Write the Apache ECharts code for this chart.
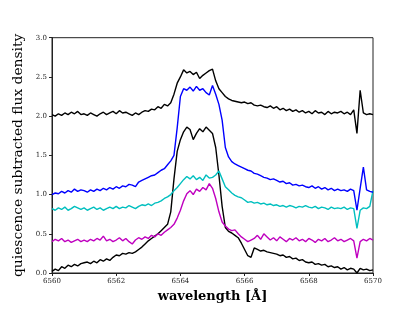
<!DOCTYPE html>
<html><head><meta charset="utf-8">
<script src="https://cdn.jsdelivr.net/npm/echarts@6/dist/echarts.min.js"></script>
<style>html,body{margin:0;padding:0;background:#fff}#c{width:415px;height:311px}</style>
</head><body><div id="c"></div>
<script>
// wavelength grid start/step (Å)
const lambdaStart = 6560.0;
const lambdaStep = 0.1;
const xTicks = [6560, 6562, 6564, 6566, 6568, 6570];
const yTicks = [0.0, 0.5, 1.0, 1.5, 2.0, 2.5, 3.0];

const topBlack = [
 2.02,2.00,2.03,2.01,2.04,2.02,2.05,2.03,2.06,2.02,
 2.03,2.01,2.04,2.02,2.00,2.03,2.05,2.02,2.04,2.06,
 2.03,2.07,2.04,2.05,2.03,2.01,2.04,2.02,2.05,2.07,
 2.06,2.09,2.08,2.12,2.10,2.15,2.13,2.17,2.28,2.42,
 2.50,2.59,2.55,2.57,2.53,2.56,2.48,2.52,2.55,2.58,
 2.60,2.45,2.35,2.30,2.25,2.22,2.20,2.19,2.18,2.17,
 2.18,2.16,2.17,2.14,2.13,2.14,2.12,2.11,2.13,2.10,
 2.12,2.08,2.10,2.07,2.09,2.06,2.08,2.05,2.07,2.04,
 2.06,2.03,2.07,2.04,2.05,2.02,2.06,2.03,2.05,2.04,
 2.06,2.03,2.05,2.02,2.08,1.78,2.33,2.04,2.02,2.03,2.02];

const blue = [
 1.00,1.02,1.01,1.04,1.02,1.05,1.03,1.07,1.04,1.06,
 1.05,1.03,1.06,1.04,1.07,1.05,1.08,1.06,1.09,1.07,
 1.10,1.08,1.11,1.10,1.13,1.12,1.10,1.16,1.18,1.20,
 1.22,1.24,1.25,1.28,1.31,1.33,1.38,1.43,1.50,1.85,
 2.25,2.35,2.33,2.37,2.32,2.38,2.33,2.35,2.30,2.27,
 2.39,2.28,2.15,1.95,1.60,1.48,1.42,1.39,1.37,1.35,
 1.33,1.31,1.30,1.27,1.26,1.24,1.22,1.21,1.19,1.20,
 1.18,1.16,1.17,1.14,1.15,1.12,1.13,1.11,1.12,1.10,
 1.09,1.11,1.08,1.10,1.07,1.09,1.06,1.08,1.05,1.07,
 1.05,1.06,1.04,1.07,1.05,0.80,1.08,1.35,1.06,1.04,1.03];

const cyan = [
 0.82,0.80,0.83,0.81,0.84,0.80,0.82,0.85,0.83,0.81,
 0.83,0.80,0.82,0.84,0.81,0.83,0.80,0.82,0.84,0.82,
 0.85,0.82,0.84,0.83,0.86,0.84,0.82,0.85,0.87,0.86,
 0.88,0.86,0.89,0.90,0.92,0.95,0.97,1.00,1.05,1.09,
 1.14,1.19,1.23,1.20,1.24,1.19,1.22,1.18,1.25,1.21,
 1.22,1.25,1.30,1.20,1.10,1.06,1.02,0.99,0.97,0.96,
 0.93,0.90,0.91,0.89,0.90,0.88,0.89,0.87,0.88,0.86,
 0.87,0.85,0.86,0.84,0.86,0.85,0.83,0.85,0.84,0.86,
 0.84,0.83,0.85,0.82,0.84,0.83,0.81,0.84,0.82,0.83,
 0.82,0.84,0.81,0.83,0.82,0.57,0.80,0.83,0.82,0.85,1.05];

const magenta = [
 0.40,0.43,0.41,0.44,0.40,0.42,0.39,0.41,0.43,0.40,
 0.42,0.40,0.43,0.41,0.44,0.42,0.47,0.41,0.43,0.40,
 0.42,0.45,0.41,0.44,0.40,0.37,0.42,0.45,0.43,0.46,
 0.44,0.48,0.46,0.50,0.48,0.52,0.55,0.58,0.62,0.70,
 0.80,0.92,1.01,1.05,1.00,1.07,1.04,1.09,1.06,1.14,
 1.08,0.95,0.78,0.65,0.60,0.56,0.54,0.55,0.50,0.46,
 0.43,0.40,0.42,0.44,0.48,0.43,0.50,0.46,0.42,0.45,
 0.41,0.46,0.43,0.40,0.44,0.42,0.45,0.41,0.43,0.40,
 0.44,0.42,0.39,0.43,0.41,0.44,0.40,0.42,0.45,0.41,
 0.43,0.40,0.42,0.44,0.41,0.19,0.40,0.43,0.41,0.44,0.42];

const bottomBlack = [
 0.02,0.05,0.03,0.08,0.06,0.10,0.08,0.11,0.09,0.12,
 0.13,0.14,0.12,0.15,0.13,0.17,0.15,0.18,0.16,0.20,
 0.23,0.22,0.25,0.24,0.26,0.25,0.27,0.30,0.33,0.37,
 0.41,0.44,0.47,0.50,0.54,0.58,0.62,0.78,1.20,1.55,
 1.70,1.80,1.86,1.83,1.70,1.78,1.84,1.80,1.86,1.82,
 1.78,1.60,1.25,0.85,0.58,0.53,0.51,0.48,0.45,0.38,
 0.30,0.22,0.20,0.32,0.30,0.28,0.29,0.27,0.26,0.25,
 0.24,0.22,0.23,0.20,0.21,0.18,0.19,0.16,0.17,0.14,
 0.13,0.14,0.11,0.12,0.10,0.11,0.08,0.09,0.07,0.08,
 0.05,0.07,0.04,0.06,0.05,0.00,0.06,0.04,0.05,0.03,0.04];

function pairs(arr){ return arr.map((v,i)=>[+(lambdaStart+i*lambdaStep).toFixed(2), v]); }

const FONT = '"DejaVu Serif", "Liberation Serif", serif';
const chart = echarts.init(document.getElementById('c'), null, {renderer:'canvas'});
function line(data,color){
  return {type:'line', data:pairs(data), showSymbol:false, symbol:'none',
          lineStyle:{color:color,width:1.4}, itemStyle:{color:color}, animation:false};
}
chart.setOption({
  animation:false,
  grid:{left:52, right:42, top:37.7, bottom:38, show:true, borderColor:'#222', borderWidth:1, backgroundColor:'transparent'},
  xAxis:{type:'value', min:xTicks[0], max:xTicks[xTicks.length-1], interval:2,
    name:'wavelength [Å]', nameLocation:'middle', nameGap:17,
    nameTextStyle:{fontFamily:FONT, fontSize:13, fontWeight:'bold', color:'#000'},
    axisLine:{show:true, lineStyle:{color:'#222', width:1}},
    axisTick:{show:true, length:3, inside:false, lineStyle:{color:'#222'}},
    axisLabel:{fontFamily:FONT, fontSize:7, color:'#222', margin:5, formatter:v=>String(v)},
    splitLine:{show:false}},
  yAxis:{type:'value', min:yTicks[0], max:yTicks[yTicks.length-1], interval:0.5,
    name:'quiescence subtracted flux density', nameLocation:'middle', nameGap:21,
    nameTextStyle:{fontFamily:FONT, fontSize:13.8, color:'#000'},
    axisLine:{show:true, lineStyle:{color:'#222', width:1}},
    axisTick:{show:true, length:3, inside:false, lineStyle:{color:'#222'}},
    axisLabel:{fontFamily:FONT, fontSize:7, color:'#222', margin:5, formatter:v=>v.toFixed(1)},
    splitLine:{show:false}},
  series:[
    line(bottomBlack,'#000000'),
    line(magenta,'#bf00bf'),
    line(cyan,'#00bfbf'),
    line(blue,'#0000ff'),
    line(topBlack,'#000000')
  ]
});
</script></body></html>
